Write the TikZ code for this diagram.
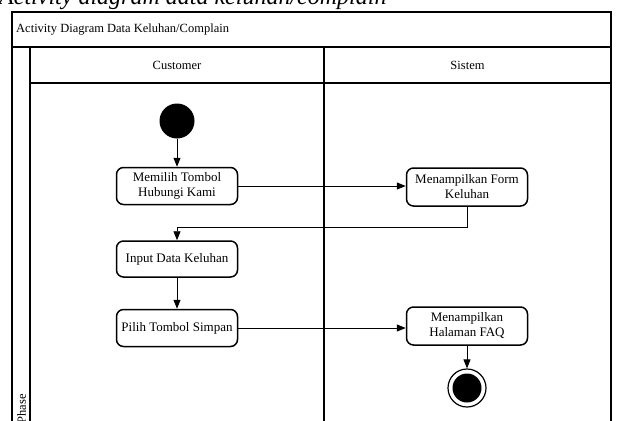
\documentclass[tikz,border=0pt]{standalone}
\usepackage{fontspec}
\setmainfont{Liberation Serif}
\usetikzlibrary{arrows.meta,calc}
\begin{document}
\begin{tikzpicture}[x=1pt,y=-1pt,
  frameline/.style={line width=1.6pt},
  act/.style={draw, rounded corners=7pt, line width=1.5pt, minimum width=121pt, minimum height=37pt, align=center, inner sep=2pt, font=\fontsize{13}{15}\selectfont},
  lbl/.style={font=\fontsize{12.5}{14.5}\selectfont, inner sep=0pt},
  flow/.style={line width=0.8pt, -{Triangle[length=9pt,width=7pt]}}
]
\useasboundingbox (0,0) rectangle (617,420);
\clip (0,0) rectangle (617,420);
% cut-off caption above the frame
\node[anchor=base west, inner sep=0pt, font=\fontsize{24}{28}\selectfont\itshape] (cap) at (-1,5) {Activity diagram data keluhan/complain};
% frame
\draw[frameline] (12,440) -- (12,12) -- (611,12) -- (611,440);
\draw[frameline] (12,47) -- (611,47);
\draw[frameline] (30,47) -- (30,440);
\draw[frameline] (30,83) -- (611,83);
\draw[frameline] (324,47) -- (324,440);
\node[lbl, anchor=west] (title) at (16,29.5) {Activity Diagram Data Keluhan/Complain};
\node[lbl] (cust) at (177,65) {Customer};
\node[lbl] (sis) at (467.5,65) {Sistem};
\node[lbl, rotate=90, anchor=east] (phase) at (21.5,394) {Phase};
% nodes
\node[circle, fill=black, minimum size=35pt, inner sep=0pt] (init) at (177,121) {};
\node[act] (a1) at (177,186) {Memilih Tombol\\Hubungi Kami};
\node[act, minimum height=38pt] (s1) at (467,187) {Menampilkan Form\\Keluhan};
\node[act, minimum height=36pt] (a2) at (177,259) {Input Data Keluhan};
\node[act] (a3) at (177,328) {Pilih Tombol Simpan};
\node[act, minimum height=38pt] (s2) at (467,326) {Menampilkan\\Halaman FAQ};
\node[circle, draw, line width=1.2pt, minimum size=38pt, inner sep=0pt] (fin) at (467,388) {};
\node[circle, fill=black, minimum size=29pt, inner sep=0pt] (finin) at (fin) {};
% flows
\draw[flow] (init) -- (a1);
\draw[flow] (a1.east) -- (a1.east -| s1.west);
\draw[flow] (s1.south) |- (177,227) -- (a2.north);
\draw[flow] (a2) -- (a3);
\draw[flow] (a3.east) -- (a3.east -| s2.west);
\draw[flow] (s2) -- (fin);
\end{tikzpicture}
\end{document}
